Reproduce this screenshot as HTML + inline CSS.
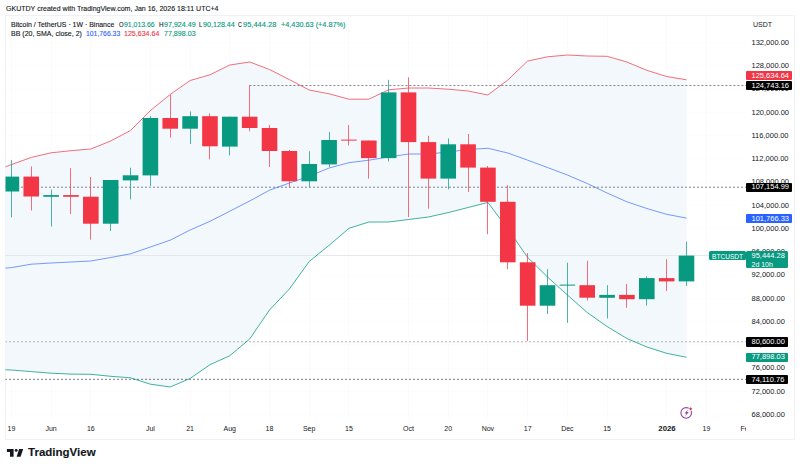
<!DOCTYPE html>
<html><head><meta charset="utf-8">
<style>
html,body{margin:0;padding:0;}
body{width:800px;height:470px;position:relative;overflow:hidden;background:#fff;font-family:"Liberation Sans",sans-serif;color:#131722;}
.t{position:absolute;white-space:pre;line-height:1;-webkit-text-stroke:0.12px currentColor;}
.ax{position:absolute;left:751.5px;font-size:7.5px;white-space:pre;line-height:1;color:#131722;}
.tl{position:absolute;font-size:7px;white-space:pre;line-height:1;color:#131722;transform:translateX(-50%);}
.pbox{position:absolute;left:746px;color:#fff;font-size:7.5px;line-height:1;box-sizing:border-box;padding-left:5.5px;border-radius:1px;}
.pbox span{position:absolute;left:5.5px;}
svg{position:absolute;left:0;top:0;}
</style></head><body>
<div style="position:absolute;left:5px;top:14.5px;width:788px;height:0.6px;background:#f0f1f4"></div>
<div style="position:absolute;left:5px;top:14.5px;width:0.6px;height:425px;background:#f0f1f4"></div>
<div style="position:absolute;left:794px;top:14.5px;width:0.6px;height:425px;background:#f0f1f4"></div>
<div style="position:absolute;left:5px;top:439px;width:788px;height:0.6px;background:#f0f1f4"></div>
<svg width="800" height="470" viewBox="0 0 800 470">
<defs><clipPath id="pane"><rect x="5.5" y="15" width="740.5" height="405"/></clipPath></defs>
<g clip-path="url(#pane)">
<rect x="11" y="15" width="1" height="405" fill="#000" fill-opacity="0.014"/>
<rect x="51" y="15" width="1" height="405" fill="#000" fill-opacity="0.014"/>
<rect x="90" y="15" width="1" height="405" fill="#000" fill-opacity="0.014"/>
<rect x="150" y="15" width="1" height="405" fill="#000" fill-opacity="0.014"/>
<rect x="190" y="15" width="1" height="405" fill="#000" fill-opacity="0.014"/>
<rect x="229" y="15" width="1" height="405" fill="#000" fill-opacity="0.014"/>
<rect x="269" y="15" width="1" height="405" fill="#000" fill-opacity="0.014"/>
<rect x="309" y="15" width="1" height="405" fill="#000" fill-opacity="0.014"/>
<rect x="348" y="15" width="1" height="405" fill="#000" fill-opacity="0.014"/>
<rect x="408" y="15" width="1" height="405" fill="#000" fill-opacity="0.014"/>
<rect x="448" y="15" width="1" height="405" fill="#000" fill-opacity="0.014"/>
<rect x="487" y="15" width="1" height="405" fill="#000" fill-opacity="0.014"/>
<rect x="527" y="15" width="1" height="405" fill="#000" fill-opacity="0.014"/>
<rect x="567" y="15" width="1" height="405" fill="#000" fill-opacity="0.014"/>
<rect x="607" y="15" width="1" height="405" fill="#000" fill-opacity="0.014"/>
<rect x="666" y="15" width="1" height="405" fill="#000" fill-opacity="0.014"/>
<rect x="706" y="15" width="1" height="405" fill="#000" fill-opacity="0.014"/>
<rect x="746" y="15" width="1" height="405" fill="#000" fill-opacity="0.014"/>
<rect x="5" y="42" width="741" height="1" fill="#000" fill-opacity="0.008"/>
<rect x="5" y="65" width="741" height="1" fill="#000" fill-opacity="0.008"/>
<rect x="5" y="89" width="741" height="1" fill="#000" fill-opacity="0.008"/>
<rect x="5" y="112" width="741" height="1" fill="#000" fill-opacity="0.008"/>
<rect x="5" y="135" width="741" height="1" fill="#000" fill-opacity="0.008"/>
<rect x="5" y="158" width="741" height="1" fill="#000" fill-opacity="0.008"/>
<rect x="5" y="182" width="741" height="1" fill="#000" fill-opacity="0.008"/>
<rect x="5" y="205" width="741" height="1" fill="#000" fill-opacity="0.008"/>
<rect x="5" y="228" width="741" height="1" fill="#000" fill-opacity="0.008"/>
<rect x="5" y="251" width="741" height="1" fill="#000" fill-opacity="0.008"/>
<rect x="5" y="275" width="741" height="1" fill="#000" fill-opacity="0.008"/>
<rect x="5" y="298" width="741" height="1" fill="#000" fill-opacity="0.008"/>
<rect x="5" y="321" width="741" height="1" fill="#000" fill-opacity="0.008"/>
<rect x="5" y="344" width="741" height="1" fill="#000" fill-opacity="0.008"/>
<rect x="5" y="368" width="741" height="1" fill="#000" fill-opacity="0.008"/>
<rect x="5" y="391" width="741" height="1" fill="#000" fill-opacity="0.008"/>
<rect x="5" y="414" width="741" height="1" fill="#000" fill-opacity="0.008"/>
<polygon points="-8.5,172.0 11.4,164.6 31.3,157.4 51.1,152.8 71.0,150.7 90.8,149.0 110.7,141.0 130.5,130.5 150.4,110.5 170.2,94.5 190.1,80.5 210.0,74.8 229.8,65.0 249.7,62.0 269.5,69.5 289.4,79.6 309.2,90.0 329.1,93.8 349.0,99.2 368.8,99.2 388.7,89.8 408.5,88.0 428.4,88.0 448.2,89.2 468.1,91.0 487.9,95.0 507.8,80.0 527.7,61.0 547.5,56.8 567.4,55.0 587.2,56.0 607.1,56.3 626.9,62.0 646.8,70.3 666.6,76.5 686.5,79.8 686.5,357.3 666.6,353.3 646.8,347.0 626.9,338.5 607.1,326.5 587.2,312.5 567.4,295.0 547.5,277.0 527.7,257.5 507.8,229.0 487.9,202.4 468.1,207.5 448.2,212.6 428.4,217.0 408.5,219.5 388.7,222.0 368.8,222.0 349.0,228.3 329.1,245.3 309.2,261.5 289.4,289.0 269.5,310.0 249.7,339.0 229.8,355.7 210.0,364.7 190.1,378.5 170.2,387.0 150.4,384.2 130.5,377.8 110.7,376.3 90.8,374.3 71.0,374.1 51.1,373.2 31.3,371.6 11.4,370.0 -8.5,369.0" fill="#f3f8fd"/>
<line x1="5" y1="255.5" x2="709" y2="255.5" stroke="#dfe2e8" stroke-width="0.8"/>
<line x1="249.4" y1="85.5" x2="746.0" y2="85.5" stroke="#6a6d78" stroke-width="0.85" stroke-dasharray="2,2"/>
<line x1="5.0" y1="187.2" x2="746.0" y2="187.2" stroke="#6a6d78" stroke-width="0.85" stroke-dasharray="2,2"/>
<line x1="5.0" y1="341.8" x2="746.0" y2="341.8" stroke="#a3a6af" stroke-width="0.85" stroke-dasharray="2,2"/>
<line x1="5.0" y1="379.3" x2="746.0" y2="379.3" stroke="#5d606b" stroke-width="0.85" stroke-dasharray="2,2"/>
<polyline points="-8.5,172.0 11.4,164.6 31.3,157.4 51.1,152.8 71.0,150.7 90.8,149.0 110.7,141.0 130.5,130.5 150.4,110.5 170.2,94.5 190.1,80.5 210.0,74.8 229.8,65.0 249.7,62.0 269.5,69.5 289.4,79.6 309.2,90.0 329.1,93.8 349.0,99.2 368.8,99.2 388.7,89.8 408.5,88.0 428.4,88.0 448.2,89.2 468.1,91.0 487.9,95.0 507.8,80.0 527.7,61.0 547.5,56.8 567.4,55.0 587.2,56.0 607.1,56.3 626.9,62.0 646.8,70.3 666.6,76.5 686.5,79.8" fill="none" stroke="#f23645" stroke-width="0.9" stroke-opacity="0.8"/>
<polyline points="-8.5,269.5 11.4,267.6 31.3,264.2 51.1,263.0 71.0,262.0 90.8,261.0 110.7,257.5 130.5,253.8 150.4,247.0 170.2,240.2 190.1,230.0 210.0,221.3 229.8,211.2 249.7,201.0 269.5,190.2 289.4,183.0 309.2,176.2 329.1,168.0 349.0,162.7 368.8,160.2 388.7,157.0 408.5,154.0 428.4,154.0 448.2,152.0 468.1,149.5 487.9,148.3 507.8,153.0 527.7,160.2 547.5,167.5 567.4,175.0 587.2,183.5 607.1,193.0 626.9,201.8 646.8,208.5 666.6,214.3 686.5,218.1" fill="none" stroke="#2962ff" stroke-width="0.9" stroke-opacity="0.7"/>
<polyline points="-8.5,369.0 11.4,370.0 31.3,371.6 51.1,373.2 71.0,374.1 90.8,374.3 110.7,376.3 130.5,377.8 150.4,384.2 170.2,387.0 190.1,378.5 210.0,364.7 229.8,355.7 249.7,339.0 269.5,310.0 289.4,289.0 309.2,261.5 329.1,245.3 349.0,228.3 368.8,222.0 388.7,222.0 408.5,219.5 428.4,217.0 448.2,212.6 468.1,207.5 487.9,202.4 507.8,229.0 527.7,257.5 547.5,277.0 567.4,295.0 587.2,312.5 607.1,326.5 626.9,338.5 646.8,347.0 666.6,353.3 686.5,357.3" fill="none" stroke="#089981" stroke-width="0.9" stroke-opacity="0.85"/>
<rect x="11" y="160.00" width="1" height="57.30" fill="#089981" fill-opacity="0.72"/>
<rect x="3.60" y="176.60" width="15.60" height="14.90" fill="#089981"/>
<rect x="31" y="166.40" width="1" height="44.10" fill="#f23645" fill-opacity="0.72"/>
<rect x="23.46" y="176.60" width="15.60" height="19.90" fill="#f23645"/>
<rect x="51" y="189.60" width="1" height="36.90" fill="#089981" fill-opacity="0.72"/>
<rect x="43.31" y="195.10" width="15.60" height="1.70" fill="#089981"/>
<rect x="70" y="168.00" width="1" height="45.90" fill="#f23645" fill-opacity="0.72"/>
<rect x="63.17" y="195.10" width="15.60" height="1.70" fill="#f23645"/>
<rect x="90" y="177.00" width="1" height="62.60" fill="#f23645" fill-opacity="0.72"/>
<rect x="83.02" y="196.70" width="15.60" height="27.00" fill="#f23645"/>
<rect x="110" y="180.00" width="1" height="51.00" fill="#089981" fill-opacity="0.72"/>
<rect x="102.88" y="180.00" width="15.60" height="43.70" fill="#089981"/>
<rect x="130" y="167.70" width="1" height="31.70" fill="#089981" fill-opacity="0.72"/>
<rect x="122.74" y="175.30" width="15.60" height="5.10" fill="#089981"/>
<rect x="150" y="116.00" width="1" height="70.00" fill="#089981" fill-opacity="0.72"/>
<rect x="142.59" y="118.00" width="15.60" height="57.40" fill="#089981"/>
<rect x="170" y="94.80" width="1" height="42.90" fill="#f23645" fill-opacity="0.72"/>
<rect x="162.45" y="118.00" width="15.60" height="10.70" fill="#f23645"/>
<rect x="190" y="111.40" width="1" height="32.60" fill="#089981" fill-opacity="0.72"/>
<rect x="182.30" y="116.20" width="15.60" height="12.50" fill="#089981"/>
<rect x="209" y="113.40" width="1" height="46.00" fill="#f23645" fill-opacity="0.72"/>
<rect x="202.16" y="116.20" width="15.60" height="30.10" fill="#f23645"/>
<rect x="229" y="116.70" width="1" height="38.80" fill="#089981" fill-opacity="0.72"/>
<rect x="222.02" y="116.70" width="15.60" height="29.90" fill="#089981"/>
<rect x="249" y="85.60" width="1" height="45.70" fill="#f23645" fill-opacity="0.72"/>
<rect x="241.87" y="116.70" width="15.60" height="11.30" fill="#f23645"/>
<rect x="269" y="124.90" width="1" height="42.10" fill="#f23645" fill-opacity="0.72"/>
<rect x="261.73" y="128.00" width="15.60" height="23.00" fill="#f23645"/>
<rect x="289" y="149.90" width="1" height="37.50" fill="#f23645" fill-opacity="0.72"/>
<rect x="281.58" y="151.00" width="15.60" height="30.30" fill="#f23645"/>
<rect x="309" y="151.30" width="1" height="35.80" fill="#089981" fill-opacity="0.72"/>
<rect x="301.44" y="164.00" width="15.60" height="17.30" fill="#089981"/>
<rect x="329" y="131.90" width="1" height="35.10" fill="#089981" fill-opacity="0.72"/>
<rect x="321.30" y="140.00" width="15.60" height="24.40" fill="#089981"/>
<rect x="348" y="125.00" width="1" height="20.40" fill="#f23645" fill-opacity="0.72"/>
<rect x="341.15" y="139.60" width="15.60" height="1.00" fill="#f23645"/>
<rect x="368" y="140.50" width="1" height="38.10" fill="#f23645" fill-opacity="0.72"/>
<rect x="361.01" y="140.50" width="15.60" height="17.60" fill="#f23645"/>
<rect x="388" y="79.80" width="1" height="81.70" fill="#089981" fill-opacity="0.72"/>
<rect x="380.86" y="92.40" width="15.60" height="65.70" fill="#089981"/>
<rect x="408" y="77.30" width="1" height="139.70" fill="#f23645" fill-opacity="0.72"/>
<rect x="400.72" y="92.40" width="15.60" height="49.70" fill="#f23645"/>
<rect x="428" y="135.80" width="1" height="72.80" fill="#f23645" fill-opacity="0.72"/>
<rect x="420.58" y="142.10" width="15.60" height="36.50" fill="#f23645"/>
<rect x="448" y="138.40" width="1" height="51.00" fill="#089981" fill-opacity="0.72"/>
<rect x="440.43" y="144.30" width="15.60" height="34.30" fill="#089981"/>
<rect x="468" y="134.00" width="1" height="58.00" fill="#f23645" fill-opacity="0.72"/>
<rect x="460.29" y="144.30" width="15.60" height="23.30" fill="#f23645"/>
<rect x="487" y="166.00" width="1" height="68.20" fill="#f23645" fill-opacity="0.72"/>
<rect x="480.14" y="167.60" width="15.60" height="34.20" fill="#f23645"/>
<rect x="507" y="185.20" width="1" height="84.00" fill="#f23645" fill-opacity="0.72"/>
<rect x="500.00" y="201.80" width="15.60" height="60.50" fill="#f23645"/>
<rect x="527" y="253.00" width="1" height="88.00" fill="#f23645" fill-opacity="0.72"/>
<rect x="519.86" y="262.30" width="15.60" height="43.40" fill="#f23645"/>
<rect x="547" y="269.10" width="1" height="44.90" fill="#089981" fill-opacity="0.72"/>
<rect x="539.71" y="285.20" width="15.60" height="20.50" fill="#089981"/>
<rect x="567" y="262.70" width="1" height="60.10" fill="#089981" fill-opacity="0.72"/>
<rect x="559.57" y="284.60" width="15.60" height="1.00" fill="#089981"/>
<rect x="587" y="260.80" width="1" height="39.70" fill="#f23645" fill-opacity="0.72"/>
<rect x="579.42" y="285.20" width="15.60" height="12.50" fill="#f23645"/>
<rect x="607" y="285.20" width="1" height="33.20" fill="#089981" fill-opacity="0.72"/>
<rect x="599.28" y="294.90" width="15.60" height="2.90" fill="#089981"/>
<rect x="626" y="283.90" width="1" height="23.90" fill="#f23645" fill-opacity="0.72"/>
<rect x="619.14" y="294.90" width="15.60" height="4.30" fill="#f23645"/>
<rect x="646" y="276.20" width="1" height="29.40" fill="#089981" fill-opacity="0.72"/>
<rect x="638.99" y="278.10" width="15.60" height="21.10" fill="#089981"/>
<rect x="666" y="259.20" width="1" height="31.70" fill="#f23645" fill-opacity="0.72"/>
<rect x="658.85" y="278.10" width="15.60" height="3.30" fill="#f23645"/>
<rect x="686" y="241.70" width="1" height="44.30" fill="#089981" fill-opacity="0.72"/>
<rect x="678.70" y="255.60" width="15.60" height="25.80" fill="#089981"/>
</g>
</svg>
<div class="t" style="left:6.00px;top:5.47px;font-size:7.0px;color:#131722;font-weight:400;transform:scaleX(1.005);transform-origin:0 0">GKUTDY created with TradingView.com, Jan 16, 2026 18:11 UTC+4</div>
<div class="t" style="left:10.60px;top:20.67px;font-size:7.0px;color:#131722;font-weight:400;transform:scaleX(0.992);transform-origin:0 0">Bitcoin / TetherUS · 1W · Binance</div>
<div class="t" style="left:118.60px;top:20.67px;font-size:7.0px;color:#131722;font-weight:400;transform:scaleX(0.844);transform-origin:0 0">O</div>
<div class="t" style="left:123.60px;top:20.67px;font-size:7.0px;color:#089981;font-weight:400;transform:scaleX(0.985);transform-origin:0 0">91,013.66</div>
<div class="t" style="left:158.60px;top:20.67px;font-size:7.0px;color:#131722;font-weight:400;transform:scaleX(0.909);transform-origin:0 0">H</div>
<div class="t" style="left:163.60px;top:20.67px;font-size:7.0px;color:#089981;font-weight:400;transform:scaleX(1.017);transform-origin:0 0">97,924.49</div>
<div class="t" style="left:199.20px;top:20.67px;font-size:7.0px;color:#131722;font-weight:400;transform:scaleX(0.819);transform-origin:0 0">L</div>
<div class="t" style="left:202.50px;top:20.67px;font-size:7.0px;color:#089981;font-weight:400;transform:scaleX(1.021);transform-origin:0 0">90,128.44</div>
<div class="t" style="left:238.40px;top:20.67px;font-size:7.0px;color:#131722;font-weight:400;transform:scaleX(0.770);transform-origin:0 0">C</div>
<div class="t" style="left:242.90px;top:20.67px;font-size:7.0px;color:#089981;font-weight:400;transform:scaleX(1.072);transform-origin:0 0">95,444.28</div>
<div class="t" style="left:280.80px;top:20.67px;font-size:7.0px;color:#089981;font-weight:400;transform:scaleX(1.042);transform-origin:0 0">+4,430.63 (+4.87%)</div>
<div class="t" style="left:10.60px;top:30.07px;font-size:7.0px;color:#131722;font-weight:400;transform:scaleX(1.001);transform-origin:0 0">BB (20, SMA, close, 2)</div>
<div class="t" style="left:86.10px;top:30.07px;font-size:7.0px;color:#2962ff;font-weight:400;transform:scaleX(0.976);transform-origin:0 0">101,766.33</div>
<div class="t" style="left:124.30px;top:30.07px;font-size:7.0px;color:#f23645;font-weight:400;transform:scaleX(1.010);transform-origin:0 0">125,634.64</div>
<div class="t" style="left:164.30px;top:30.07px;font-size:7.0px;color:#089981;font-weight:400;transform:scaleX(1.014);transform-origin:0 0">77,898.03</div>
<div class="ax" style="top:20.6px;font-size:7px;left:753px">USDT</div>
<div class="ax" style="top:38.7px">132,000.00</div>
<div class="ax" style="top:62.0px">128,000.00</div>
<div class="ax" style="top:85.2px">124,000.00</div>
<div class="ax" style="top:108.5px">120,000.00</div>
<div class="ax" style="top:131.7px">116,000.00</div>
<div class="ax" style="top:155.0px">112,000.00</div>
<div class="ax" style="top:178.3px">108,000.00</div>
<div class="ax" style="top:201.5px">104,000.00</div>
<div class="ax" style="top:224.8px">100,000.00</div>
<div class="ax" style="top:248.0px">96,000.00</div>
<div class="ax" style="top:271.3px">92,000.00</div>
<div class="ax" style="top:294.6px">88,000.00</div>
<div class="ax" style="top:317.8px">84,000.00</div>
<div class="ax" style="top:341.1px">80,000.00</div>
<div class="ax" style="top:364.3px">76,000.00</div>
<div class="ax" style="top:387.6px">72,000.00</div>
<div class="ax" style="top:410.9px">68,000.00</div>
<div class="pbox" style="top:71.1px;height:9.4px;width:46.0px;background:#f23645"><span style="top:0.8px">125,634.64</span></div>
<div class="pbox" style="top:80.8px;height:9.5px;width:46.0px;background:#000"><span style="top:0.9px">124,743.16</span></div>
<div class="pbox" style="top:182.8px;height:9.3px;width:46.0px;background:#000"><span style="top:0.7px">107,154.99</span></div>
<div class="pbox" style="top:214.0px;height:9.4px;width:46.0px;background:#2962ff"><span style="top:0.8px">101,766.33</span></div>
<div class="pbox" style="top:337.4px;height:9.3px;width:42.3px;background:#000"><span style="top:0.8px">80,600.00</span></div>
<div class="pbox" style="top:352.7px;height:9.3px;width:42.3px;background:#089981"><span style="top:0.8px">77,898.03</span></div>
<div class="pbox" style="top:374.9px;height:9.3px;width:42.3px;background:#000"><span style="top:0.8px">74,110.76</span></div>
<div class="pbox" style="left:709.4px;top:251px;height:9.3px;width:36.8px;background:#089981;border-radius:1.5px"><span style="left:2.6px;top:1.6px;font-size:7px;transform:scaleX(0.94);transform-origin:0 0">BTCUSDT</span></div>
<div class="pbox" style="top:251px;height:17.1px;width:41.8px;background:#089981;border-radius:1.5px"><span style="top:1.4px">95,444.28</span><span style="top:9.9px;font-size:7px">2d 10h</span></div>
<div class="tl" style="left:11.4px;top:425.2px;">19</div>
<div class="tl" style="left:51.1px;top:425.2px;">Jun</div>
<div class="tl" style="left:90.8px;top:425.2px;">16</div>
<div class="tl" style="left:150.4px;top:425.2px;">Jul</div>
<div class="tl" style="left:190.1px;top:425.2px;">21</div>
<div class="tl" style="left:229.8px;top:425.2px;">Aug</div>
<div class="tl" style="left:269.5px;top:425.2px;">18</div>
<div class="tl" style="left:309.2px;top:425.2px;">Sep</div>
<div class="tl" style="left:349.0px;top:425.2px;">15</div>
<div class="tl" style="left:408.5px;top:425.2px;">Oct</div>
<div class="tl" style="left:448.2px;top:425.2px;">20</div>
<div class="tl" style="left:487.9px;top:425.2px;">Nov</div>
<div class="tl" style="left:527.7px;top:425.2px;">17</div>
<div class="tl" style="left:567.4px;top:425.2px;">Dec</div>
<div class="tl" style="left:607.1px;top:425.2px;">15</div>
<div class="tl" style="left:666.6px;top:425.2px;font-weight:700;transform:translateX(-50%) scaleX(1.11);">2026</div>
<div class="tl" style="left:706.4px;top:425.2px;">19</div>
<div style="position:absolute;left:737px;top:420px;width:9px;height:18px;overflow:hidden"><div class="tl" style="left:3.5px;top:5.2px;transform:none">Feb</div></div>
<svg width="800" height="470" style="position:absolute;left:0;top:0">
<circle cx="686.2" cy="412.9" r="5.3" fill="none" stroke="#8e44ad" stroke-width="1.1"/>
<path d="M 688.3 409.3 L 684.6 413.6 L 686.4 413.6 L 685.1 416.5 L 688.7 412.1 L 686.9 412.1 Z" fill="#8e44ad"/>
<circle cx="690.6" cy="408.8" r="1.7" fill="#d5393f" stroke="#fff" stroke-width="0.9"/>
</svg>
<svg width="800" height="470" style="position:absolute;left:0;top:0">
<path d="M 6.9 448.9 H 13.6 V 456.7 H 10.0 V 451.9 H 6.9 Z" fill="#131722"/>
<circle cx="16.2" cy="450.4" r="1.45" fill="#131722"/>
<path d="M 19.1 448.9 H 23.2 L 20.6 456.7 H 16.6 Z" fill="#131722"/>
</svg>
<div class="t" style="left:27.6px;top:447.4px;font-size:11.2px;font-weight:700;transform:scaleX(1.03);transform-origin:0 0">TradingView</div>
</body></html>
